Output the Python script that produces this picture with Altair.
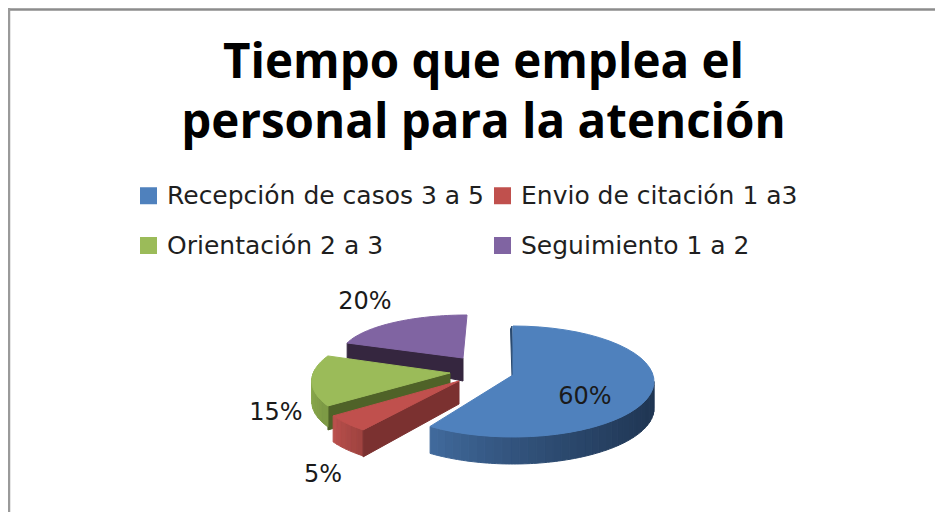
import math
import altair as alt
import pandas as pd

categories = ["Recepción de casos 3 a 5", "Envio de citación 1 a3", "Orientación 2 a 3", "Seguimiento 1 a 2"]
shares = [60, 5, 15, 20]
colors = ["#4f81bd", "#c0504d", "#9bbb59", "#8064a2"]
title_lines = ["Tiempo que emplea el", "personal para la atención"]

TITLE_FONT = "Open Sans"
FONT = "DejaVu Sans"

# projection of each exploded slice (page pixels): centre, radii, perspective, apex, depth
proj = {
    0: dict(cx=513, cy=381.5, a=141, b=55.5, k=0.0, apex=(513, 375), depth=27),
    1: dict(cx=457.6, cy=384, a=138, b=48.7, k=0.175, apex=(459, 381), depth=26),
    2: dict(cx=456, cy=371.4, a=142, b=52.7, k=0.175, apex=(450, 373), depth=22),
    3: dict(cx=467, cy=355.5, a=126, b=40.5, k=0.0, apex=(463, 358), depth=15),
}

def rim(i, deg):
    p = proj[i]
    t = math.radians(deg)
    s = 1 / (1 + p["k"] * math.cos(t))
    return p["cx"] + p["a"] * math.sin(t) * s, p["cy"] - p["b"] * math.cos(t) * s

def mix(c1, c2, t):
    a = [int(c1[j:j + 2], 16) for j in (1, 3, 5)]
    b = [int(c2[j:j + 2], 16) for j in (1, 3, 5)]
    return "#" + "".join(f"{round(x + (y - x) * t):02x}" for x, y in zip(a, b))

rows = []
face_no = [0]

def add_face(points, fill):
    face_no[0] += 1
    closed = list(points) + [points[0]]
    for n, (x, y) in enumerate(closed):
        rows.append(dict(face=face_no[0], n=n, x=x, y=y, fill=fill))

# slice angle ranges come from the shares
starts, total = [], 0
for v in shares:
    starts.append(total)
    total += v
angle = lambda pct: pct * 360 / total
span = {i: (angle(starts[i]), angle(starts[i] + shares[i])) for i in range(4)}

def arc_pts(i, a0, a1, steps=40):
    return [rim(i, a0 + (a1 - a0) * j / steps) for j in range(steps + 1)]

def wall_strips(i, a0, a1, depth, c_from, c_to, strips, power=1.0):
    for j in range(strips):
        t0 = a0 + (a1 - a0) * j / strips
        t1 = a0 + (a1 - a0) * (j + 1) / strips
        top = arc_pts(i, t0, t1, 3)
        bottom = [(x, y + depth) for x, y in reversed(top)]
        add_face(top + bottom, mix(c_from, c_to, (j / max(strips - 1, 1)) ** power))

def cut_face(i, deg, d_rim, d_apex, fill):
    r = rim(i, deg)
    ap = proj[i]["apex"]
    add_face([r, ap, (ap[0], ap[1] + d_apex), (r[0], r[1] + d_rim)], fill)

# purple (back)
a0, a1 = span[3]
cut_face(3, a0, 15, 23, "#35263f")
add_face([proj[3]["apex"]] + arc_pts(3, a0, a1), colors[3])
# green
a0, a1 = span[2]
cut_face(2, a0, 24, 22, "#4f6228")
wall_strips(2, 272, a0, 21, "#92b14f", "#7d9a45", 8)
add_face([proj[2]["apex"]] + arc_pts(2, a0, a1), colors[2])
# red
a0, a1 = span[1]
wall_strips(1, a1, a0, 26, "#b9504c", "#a04340", 6)
cut_face(1, a0, 27, 23, "#7b3130")
add_face([proj[1]["apex"]] + arc_pts(1, a0, a1), colors[1])
# blue (front)
a0, a1 = span[0]
wall_strips(0, 90, a1, 27, "#1f3552", "#40699b", 36, 1.6)
r0 = rim(0, a0)
ap0 = proj[0]["apex"]
add_face([(r0[0] - 1, r0[1]), ap0, (ap0[0] - 1, ap0[1] + 2), (r0[0] - 2.5, r0[1] + 3)], "#2a4a70")
add_face([ap0] + arc_pts(0, a0, a1), colors[0])

faces = pd.DataFrame(rows)

label_pos = [(585, 397), (323, 475), (276, 413), (365, 302)]
labels = pd.DataFrame({
    "x": [p[0] for p in label_pos],
    "y": [p[1] for p in label_pos],
    "t": [f"{v}%" for v in shares],
})

X = alt.Scale(domain=[8, 935], nice=False, zero=False)
Y = alt.Scale(domain=[512, 8], nice=False, zero=False)
x_enc = alt.X("x:Q", scale=X, axis=None)
y_enc = alt.Y("y:Q", scale=Y, axis=None)

poly = alt.Chart(faces).mark_line(strokeWidth=1, fill="#000000", interpolate="linear").encode(
    x=x_enc, y=y_enc,
    detail="face:N",
    order="n:Q",
    fill=alt.Fill("fill:N", scale=None),
    stroke=alt.Stroke("fill:N", scale=None),
)

text = alt.Chart(labels).mark_text(font=FONT, fontSize=24, color="#1a1a1a").encode(
    x=x_enc, y=y_enc, text="t:N"
)

legend_df = pd.DataFrame({"cat": categories, "x": [100] * 4, "y": [100] * 4})
legend_layer = alt.Chart(legend_df).mark_square(opacity=0, size=10).encode(
    x=x_enc, y=y_enc,
    color=alt.Color(
        "cat:N",
        scale=alt.Scale(domain=categories, range=colors),
        legend=alt.Legend(
            title=None, orient="none", legendX=128, legendY=175, columns=2, direction="horizontal",
            symbolType="square", symbolSize=289, symbolOpacity=1, symbolStrokeWidth=0,
            labelFont=FONT, labelFontSize=25, labelColor="#1f1f1f", labelLimit=400,
            rowPadding=24, columnPadding=6, symbolOffset=0, labelOffset=6,
        ),
    ),
)

frame_top = alt.Chart(pd.DataFrame({"a": [0]})).mark_rule(color="#8c8c8c", strokeWidth=2.5).encode(
    x=alt.value(0), x2=alt.value(927), y=alt.value(1.5)
)
frame_left = alt.Chart(pd.DataFrame({"a": [0]})).mark_rule(color="#9a9a9a", strokeWidth=2.5).encode(
    x=alt.value(1), y=alt.value(0), y2=alt.value(504)
)

chart = alt.layer(frame_top, frame_left, poly, text, legend_layer).properties(
    width=927, height=504,
    padding=0,
    autosize=alt.AutoSizeParams(type="none"),
    background="#ffffff",
    title=alt.TitleParams(
        text=title_lines, font=TITLE_FONT, fontSize=47.5, fontWeight="bold", color="#000000",
        lineHeight=60, anchor="middle", offset=-141, dx=12,
    ),
).configure_view(stroke=None)

chart.save("out.html", embed_options={"renderer": "svg", "actions": False})
